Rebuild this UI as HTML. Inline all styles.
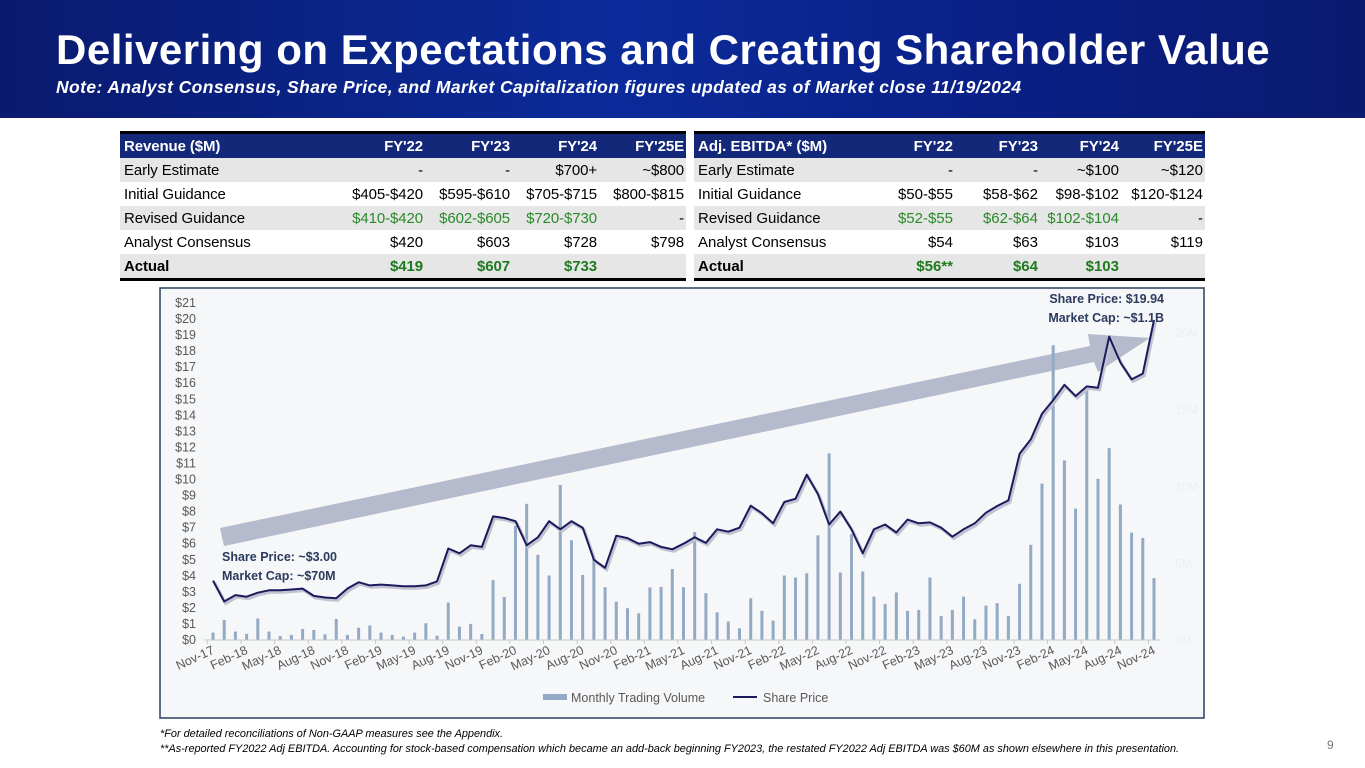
<!DOCTYPE html>
<html><head><meta charset="utf-8">
<style>
body{margin:0;width:1365px;height:768px;overflow:hidden;background:#fff;font-family:"Liberation Sans",sans-serif;position:relative}
.banner{position:absolute;left:0;top:0;width:1365px;height:118px;background:linear-gradient(90deg,#0a1a6e 0%,#0b2b9a 45%,#0a1f85 75%,#0a1a6e 100%)}
.title{position:absolute;left:56px;top:26px;color:#fff;font-weight:bold;font-size:42px;letter-spacing:0.5px;white-space:nowrap}
.sub{position:absolute;left:56px;top:77px;color:#fff;font-weight:bold;font-style:italic;font-size:17.5px;letter-spacing:0.4px;white-space:nowrap}
table{position:absolute;border-collapse:collapse;font-size:15px;table-layout:fixed}
td{height:24px;padding:0 2px 0 4px;white-space:nowrap;text-align:right;line-height:23px}
td:first-child{text-align:left}
tr.h td{background:#14287a;color:#fff;font-weight:bold;border-top:3px solid #000}
tr.g td{background:#e6e6e6}
tr.last td{border-bottom:3px solid #000;font-weight:bold}
.gr{color:#2a8a2a}
.grb{color:#1f7a1f;font-weight:bold}
.narrow td{letter-spacing:-0.1px}
.foot{position:absolute;left:160px;font-size:10.9px;font-style:italic;color:#000;white-space:nowrap}
</style></head><body>
<div class="banner"></div>
<div class="title">Delivering on Expectations and Creating Shareholder Value</div>
<div class="sub">Note: Analyst Consensus, Share Price, and Market Capitalization figures updated as of Market close 11/19/2024</div>

<table class="narrow" style="left:120px;top:131px;width:566px">
<colgroup><col style="width:210px"><col style="width:95px"><col style="width:87px"><col style="width:87px"><col style="width:87px"></colgroup>
<tr class="h"><td>Revenue ($M)</td><td>FY'22</td><td>FY'23</td><td>FY'24</td><td>FY'25E</td></tr>
<tr class="g"><td>Early Estimate</td><td>-</td><td>-</td><td>$700+</td><td>~$800</td></tr>
<tr><td>Initial Guidance</td><td>$405-$420</td><td>$595-$610</td><td>$705-$715</td><td>$800-$815</td></tr>
<tr class="g"><td>Revised Guidance</td><td class="gr">$410-$420</td><td class="gr">$602-$605</td><td class="gr">$720-$730</td><td>-</td></tr>
<tr><td>Analyst Consensus</td><td>$420</td><td>$603</td><td>$728</td><td>$798</td></tr>
<tr class="g last"><td>Actual</td><td class="grb">$419</td><td class="grb">$607</td><td class="grb">$733</td><td></td></tr>
</table>

<table style="left:694px;top:131px;width:511px">
<colgroup><col style="width:176px"><col style="width:85px"><col style="width:85px"><col style="width:81px"><col style="width:84px"></colgroup>
<tr class="h"><td>Adj. EBITDA* ($M)</td><td>FY'22</td><td>FY'23</td><td>FY'24</td><td>FY'25E</td></tr>
<tr class="g"><td>Early Estimate</td><td>-</td><td>-</td><td>~$100</td><td>~$120</td></tr>
<tr><td>Initial Guidance</td><td>$50-$55</td><td>$58-$62</td><td>$98-$102</td><td>$120-$124</td></tr>
<tr class="g"><td>Revised Guidance</td><td class="gr">$52-$55</td><td class="gr">$62-$64</td><td class="gr">$102-$104</td><td>-</td></tr>
<tr><td>Analyst Consensus</td><td>$54</td><td>$63</td><td>$103</td><td>$119</td></tr>
<tr class="g last"><td>Actual</td><td class="grb">$56**</td><td class="grb">$64</td><td class="grb">$103</td><td></td></tr>
</table>

<svg id="chart" style="position:absolute;left:0;top:0" width="1365" height="768">
<rect x="160" y="288" width="1044" height="430" fill="#f6f7f9" stroke="#2c3e63" stroke-width="1.5"/>
<g id="arrow"></g><g id="bars"></g><g id="axes"></g><g id="line"></g><g id="labels"></g>
</svg>

<div class="foot" style="top:728px">*For detailed reconciliations of Non-GAAP measures see the Appendix.</div>
<div class="foot" style="top:743px">**As-reported FY2022 Adj EBITDA. Accounting for stock-based compensation which became an add-back beginning FY2023, the restated FY2022 Adj EBITDA was $60M as shown elsewhere in this presentation.</div>
<div style="position:absolute;left:1327px;top:738px;font-size:12px;color:#777">9</div>

<script>
const startMonth = {year:2017, month:10}; // Nov-17
const prices = [3.7,2.4,2.8,2.7,2.95,3.1,3.1,3.15,3.2,2.75,2.65,2.6,3.2,3.6,3.4,3.45,3.4,3.35,3.35,3.4,3.65,5.7,5.4,5.9,5.8,7.7,7.6,7.4,5.9,6.4,7.4,6.9,7.4,7.0,5.0,4.5,6.5,6.35,6.0,6.1,5.8,5.65,6.0,6.4,6.05,6.9,6.75,7.0,8.37,7.9,7.27,8.6,8.8,10.3,9.1,7.2,8.0,6.9,5.4,6.9,7.2,6.7,7.5,7.27,7.33,7.0,6.44,6.9,7.27,7.93,8.35,8.7,11.6,12.5,14.1,14.95,15.9,15.2,15.8,15.72,18.9,17.3,16.24,16.6,19.94];
const volumes = [0.48,1.3,0.55,0.4,1.4,0.55,0.26,0.33,0.72,0.65,0.37,1.37,0.33,0.8,0.94,0.48,0.33,0.22,0.48,1.09,0.28,2.44,0.87,1.05,0.39,3.9,2.8,7.45,8.87,5.55,4.2,10.1,6.5,4.24,5.27,3.44,2.5,2.07,1.74,3.42,3.46,4.62,3.44,7.04,3.05,1.8,1.2,0.76,2.72,1.9,1.26,4.2,4.07,4.35,6.82,12.16,4.4,6.9,4.46,2.83,2.35,3.1,1.9,1.96,4.07,1.57,1.96,2.83,1.35,2.24,2.4,1.57,3.66,6.2,10.19,19.2,11.7,8.56,16.4,10.5,12.5,8.83,7.0,6.64,4.03];
const priceTicks = [0,1,2,3,4,5,6,7,8,9,10,11,12,13,14,15,16,17,18,19,20,21];
const volTicks = [0,5,10,15,20];
const monthNames = ["Jan","Feb","Mar","Apr","May","Jun","Jul","Aug","Sep","Oct","Nov","Dec"];

const NS="http://www.w3.org/2000/svg";
const x0=213, x1=1154, yBase=640;
const xs=i=>x0+(x1-x0)*i/(prices.length-1);
const yP=v=>yBase-v*(640-303)/21;
const yV=v=>yBase-v*(640-333)/20;
function mk(tag,attrs,parent){const e=document.createElementNS(NS,tag);for(const k in attrs)e.setAttribute(k,attrs[k]);document.getElementById(parent).appendChild(e);return e;}

const ar=mk('polygon',{points:"220,528 1090,346 1088,334 1150,338 1098,372 1094,362 224,546",fill:"#a9afc6",opacity:"0.85"},'arrow');



volumes.forEach((v,i)=>{
 const b=mk('rect',{x:xs(i)-1.5,y:yV(v),width:3,height:yBase-yV(v),fill:"#93a9c4"},'bars');
 
 
});

mk('line',{x1:204,y1:yBase,x2:1160,y2:yBase,stroke:"#c8c8c8"},'axes');
priceTicks.forEach(t=>{
 const tx=mk('text',{x:196,y:yP(t)+4,'text-anchor':'end','font-size':12.5,fill:"#595959",'font-family':'Liberation Sans'},'axes');
 tx.textContent='$'+t;
 
 
});
volTicks.forEach(t=>{
 const tx=mk('text',{x:1175,y:yV(t)+4,'font-size':12,fill:"#eceef2",'font-family':'Liberation Sans'},'axes');
 tx.textContent=t+'M';
 
 
});
for(let i=0;i<prices.length;i+=3){
 const m=(startMonth.month+i)%12, y=startMonth.year+Math.floor((startMonth.month+i)/12);
 const lbl=monthNames[m]+'-'+String(y).slice(2);
 const px=xs(i);
 mk('line',{x1:px-5.6,y1:yBase,x2:px-5.6,y2:yBase+4,stroke:"#c8c8c8"},'axes');
 const tx=mk('text',{x:px+2,y:yBase+13,'text-anchor':'end','font-size':12.5,fill:"#595959",'font-family':'Liberation Sans',transform:`rotate(-25 ${px+2} ${yBase+13})`},'axes');
 tx.textContent=lbl;
 
 
}

const pts=prices.map((p,i)=>xs(i).toFixed(1)+','+yP(p).toFixed(1)).join(' ');
const sh=mk('polyline',{points:pts,fill:'none',stroke:'#c0c4d0','stroke-width':3,transform:'translate(1.5,2)'},'line');


const pl=mk('polyline',{points:pts,fill:'none',stroke:'#1c1a5c','stroke-width':2,'stroke-linejoin':'round'},'line');



function txt(x,y,s,attrs,name){const t=mk('text',Object.assign({x:x,y:y,'font-family':'Liberation Sans'},attrs),'labels');t.textContent=s;return t;}
const bold={'font-size':12.5,'font-weight':'bold',fill:'#2b3a5e'};
txt(222,561,'Share Price: ~$3.00',bold,'start-price-annotation');
txt(222,580,'Market Cap: ~$70M',bold,'start-marketcap-annotation');
txt(1164,303,'Share Price: $19.94',Object.assign({'text-anchor':'end'},bold),'end-price-annotation');
txt(1164,322,'Market Cap: ~$1.1B',Object.assign({'text-anchor':'end'},bold),'end-marketcap-annotation');
const ls=mk('rect',{x:543,y:694,width:24,height:6,fill:'#93a9c4'},'labels');


txt(571,702,'Monthly Trading Volume',{'font-size':12.5,fill:'#595959'},'legend-volume-label');
const ll=mk('line',{x1:733,y1:697,x2:757,y2:697,stroke:'#1c1a5c','stroke-width':2},'labels');


txt(763,702,'Share Price',{'font-size':12.5,fill:'#595959'},'legend-price-label');
</script>
</body></html>
